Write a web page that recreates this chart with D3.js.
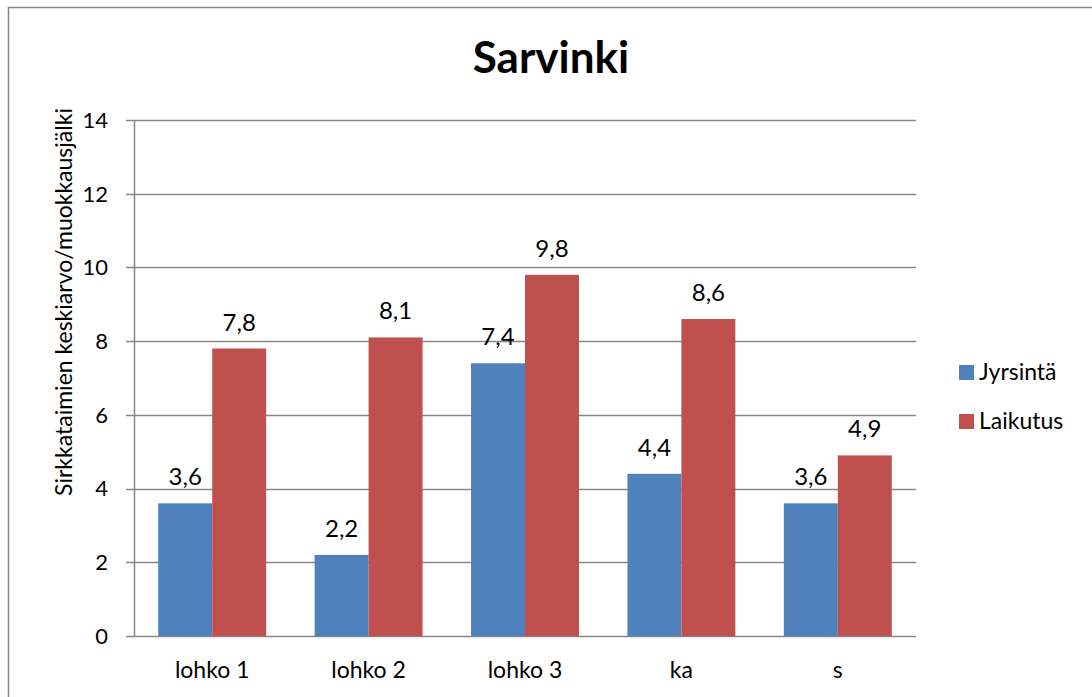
<!DOCTYPE html>
<html>
	<head>
		<meta charset="utf-8">
		<script src="https://cdnjs.cloudflare.com/ajax/libs/d3/7.8.5/d3.min.js" charset="utf-8"></script>
		<style>
			body {
				margin: 0;
				background: #ffffff;
				font-family: Lato, "Open Sans", sans-serif;
			}
			.title {
				font-size: 44px;
				font-weight: 700;
				text-anchor: middle;
				fill: #000000;
			}
			.tickLabel, .catLabel, .valueLabel, .legendLabel, .axisTitle {
				fill: #000000;
			}
		</style>
	</head>
	<body>
		<div id="chart"></div>

		<script>
			///////////////////////////////////////////////////////////////////////////
			//////////////////////////////// Data /////////////////////////////////////
			///////////////////////////////////////////////////////////////////////////

			var categories = ["lohko 1", "lohko 2", "lohko 3", "ka", "s"];
			var seriesNames = ["Jyrsintä", "Laikutus"];
			var jyrsinta = [3.6, 2.2, 7.4, 4.4, 3.6];
			var laikutus = [7.8, 8.1, 9.8, 8.6, 4.9];
			var yTicks = [0, 2, 4, 6, 8, 10, 12, 14];
			var colors = ["#4F81BD", "#C0504D"];

			var data = categories.map(function(c, i) {
				return { cat: c, values: [jyrsinta[i], laikutus[i]] };
			});

			///////////////////////////////////////////////////////////////////////////
			//////////////////////////// Set up svg ///////////////////////////////////
			///////////////////////////////////////////////////////////////////////////

			var W = 1092, H = 697;
			var plot = { left: 134, right: 916, top: 120, bottom: 636 };
			var gridColor = "#878787";

			var svg = d3.select("#chart")
				.append("svg")
				.attr("width", W)
				.attr("height", H);

			//Outer chart border (runs off the right and bottom edges)
			svg.append("rect")
				.attr("x", 8.5)
				.attr("y", 7.5)
				.attr("width", 1200)
				.attr("height", 800)
				.style("fill", "none")
				.style("stroke", gridColor)
				.style("stroke-width", 1.5);

			//Scales
			var x0 = d3.scaleBand()
				.domain(categories)
				.range([plot.left, plot.right])
				.paddingInner(0.31)
				.paddingOuter(0.155);

			var x1 = d3.scaleBand()
				.domain(d3.range(seriesNames.length))
				.range([0, x0.bandwidth()]);

			var y = d3.scaleLinear()
				.domain([0, 14])
				.range([plot.bottom, plot.top]);

			//Gridlines
			svg.append("g")
				.selectAll("line")
				.data(yTicks)
				.enter().append("line")
				.attr("x1", plot.left - 8)
				.attr("x2", plot.right)
				.attr("y1", function(d) { return Math.round(y(d)) + 0.5; })
				.attr("y2", function(d) { return Math.round(y(d)) + 0.5; })
				.style("stroke", gridColor)
				.style("stroke-width", 1.5);

			//Vertical axis line
			svg.append("line")
				.attr("x1", plot.left + 0.5)
				.attr("x2", plot.left + 0.5)
				.attr("y1", plot.top)
				.attr("y2", plot.bottom)
				.style("stroke", gridColor)
				.style("stroke-width", 1.5);

			//Tick labels
			svg.append("g")
				.selectAll("text")
				.data(yTicks)
				.enter().append("text")
				.attr("class", "tickLabel")
				.attr("x", 108)
				.attr("y", function(d) { return y(d); })
				.attr("dy", "0.36em")
				.style("text-anchor", "end")
				.style("font-size", "22px")
				.text(function(d) { return d; });

			///////////////////////////////////////////////////////////////////////////
			/////////////////////////////// Bars //////////////////////////////////////
			///////////////////////////////////////////////////////////////////////////

			var groups = svg.append("g")
				.selectAll("g")
				.data(data)
				.enter().append("g")
				.attr("transform", function(d) { return "translate(" + x0(d.cat) + ",0)"; });

			groups.selectAll("rect")
				.data(function(d) { return d.values; })
				.enter().append("rect")
				.attr("x", function(d, i) { return x1(i); })
				.attr("y", function(d) { return y(d); })
				.attr("width", x1.bandwidth())
				.attr("height", function(d) { return y(0) - y(d); })
				.style("fill", function(d, i) { return colors[i]; });

			//Value labels above bars, decimal comma
			groups.selectAll(".valueLabel")
				.data(function(d) { return d.values; })
				.enter().append("text")
				.attr("class", "valueLabel")
				.attr("x", function(d, i) { return x1(i) + x1.bandwidth() / 2; })
				.attr("y", function(d) { return y(d) - 18; })
				.style("text-anchor", "middle")
				.style("font-size", "24px")
				.text(function(d) { return d.toFixed(1).replace(".", ","); });

			//Category labels
			svg.append("g")
				.selectAll("text")
				.data(categories)
				.enter().append("text")
				.attr("class", "catLabel")
				.attr("x", function(d) { return x0(d) + x0.bandwidth() / 2; })
				.attr("y", 678)
				.style("text-anchor", "middle")
				.style("font-size", "23px")
				.text(function(d) { return d; });

			///////////////////////////////////////////////////////////////////////////
			///////////////////////// Titles and legend ///////////////////////////////
			///////////////////////////////////////////////////////////////////////////

			svg.append("text")
				.attr("class", "title")
				.attr("x", 551)
				.attr("y", 73)
				.text("Sarvinki");

			svg.append("text")
				.attr("class", "axisTitle")
				.attr("transform", "translate(72,302) rotate(-90)")
				.style("text-anchor", "middle")
				.style("font-size", "23px")
				.text("Sirkkataimien keskiarvo/muokkausjälki");

			var legend = svg.append("g")
				.selectAll("g")
				.data(seriesNames)
				.enter().append("g")
				.attr("transform", function(d, i) { return "translate(959," + (365 + i * 49) + ")"; });

			legend.append("rect")
				.attr("width", 15)
				.attr("height", 15)
				.style("fill", function(d, i) { return colors[i]; });

			legend.append("text")
				.attr("class", "legendLabel")
				.attr("x", 20)
				.attr("y", 15)
				.style("font-size", "23px")
				.text(function(d) { return d; });
		</script>
	</body>
</html>
